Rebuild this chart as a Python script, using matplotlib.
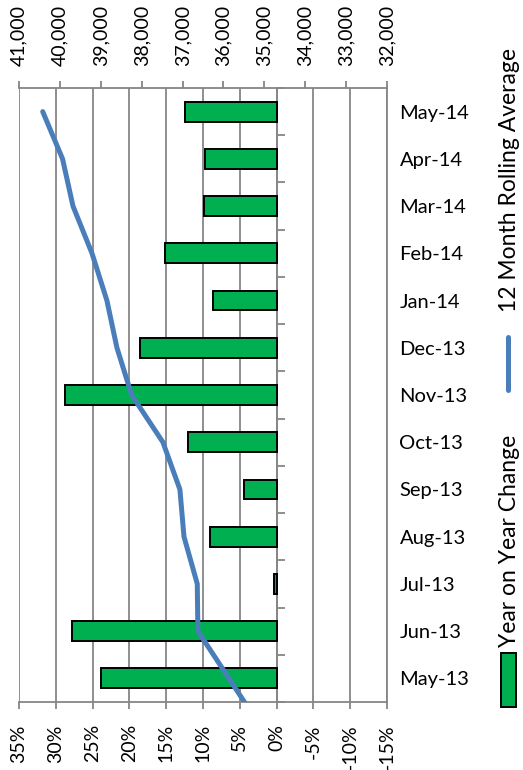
import matplotlib
matplotlib.use("Agg")
import matplotlib.pyplot as plt
from matplotlib.patches import Rectangle
from matplotlib.lines import Line2D
from matplotlib.ticker import FuncFormatter, FixedLocator

plt.rcParams['font.family'] = ['Lato', 'DejaVu Sans']

# Monthly categories, oldest at the bottom
months = ['May-13', 'Jun-13', 'Jul-13', 'Aug-13', 'Sep-13', 'Oct-13', 'Nov-13',
          'Dec-13', 'Jan-14', 'Feb-14', 'Mar-14', 'Apr-14', 'May-14']
# Year on year change, percent
yoy_change = [23.8, 27.8, 0.4, 9.0, 4.4, 12.0, 28.7, 18.6, 8.6, 15.2, 9.9, 9.7, 12.5]
# 12 month rolling average, starting one month earlier (Apr-13)
rolling_months = ['Apr-13'] + months
rolling_avg = [35110, 35865, 36625, 36640, 36965, 37065, 37480, 38245,
               38605, 38850, 39215, 39680, 39935, 40420]

pct_ticks = [35, 30, 25, 20, 15, 10, 5, 0, -5, -10, -15]
avg_ticks = [41000, 40000, 39000, 38000, 37000, 36000, 35000, 34000, 33000, 32000]

GRID = '#868686'
GREEN = '#00B050'
BLUE = '#4A7EBB'
W, H = 523, 770

fig = plt.figure(figsize=(W / 100, H / 100), dpi=100)
ax = fig.add_axes([19 / W, 1 - 702 / H, (387 - 19) / W, (702 - 88) / H])

pos = list(range(len(months)))
ax.barh(pos, yoy_change, height=0.42, color=GREEN, edgecolor='black',
        linewidth=1.4, zorder=3)

ax.set_xlim(35, -15)
ax.set_ylim(-0.5, len(months) - 0.5)
ax.set_xticks(pct_ticks)
ax.xaxis.set_major_formatter(FuncFormatter(lambda v, p: f"{v:.0f}%"))
ax.grid(axis='x', color=GRID, linewidth=1.3, zorder=0)
ax.set_axisbelow(True)

ax.tick_params(axis='x', which='major', direction='out', length=5, width=1.3,
               color=GRID, labelsize=14, labelrotation=90, pad=11)

# category axis sits on the 0% line, labels on the far side
ax.spines['left'].set_position(('data', 0))
ax.spines['top'].set_visible(False)
for s in ('left', 'right', 'bottom'):
    ax.spines[s].set_color(GRID)
    ax.spines[s].set_linewidth(1.3)
ax.set_yticks(pos)
ax.set_yticklabels(months)
ax.yaxis.set_minor_locator(FixedLocator([p - 0.5 for p in pos] + [len(months) - 0.5]))
ax.tick_params(axis='y', which='major', left=False, right=False,
               labelleft=False, labelright=True, labelsize=14.5, pad=9, length=0)
ax.tick_params(axis='y', which='minor', left=True, right=False, direction='in',
               length=6, width=1.3, color=GRID)

# secondary value axis for the rolling average
ax2 = ax.twiny()
ax2.set_xlim(41000, 32000)
ax2.set_xticks(avg_ticks)
ax2.xaxis.set_major_formatter(FuncFormatter(lambda v, p: f"{v:,.0f}"))
ax2.tick_params(axis='x', direction='out', length=5, width=1.3, color=GRID,
                labelsize=14, labelrotation=90, pad=11)
for s in ('left', 'right', 'bottom'):
    ax2.spines[s].set_visible(False)
ax2.spines['top'].set_color(GRID)
ax2.spines['top'].set_linewidth(1.3)
rolling_pos = list(range(-1, len(months)))
ax2.plot(rolling_avg, rolling_pos, color=BLUE, linewidth=3.6,
         solid_capstyle='round', solid_joinstyle='round', zorder=4)
ax2.set_ylim(-0.5, len(months) - 0.5)

# rotated legend on the right
def fx(px):
    return px / W

def fy(py):
    return 1 - py / H

fig.add_artist(Rectangle((fx(501), fy(707)), 15 / W, 54 / H, transform=fig.transFigure,
                         facecolor=GREEN, edgecolor='black', linewidth=1.4))
fig.text(fx(509), fy(647), 'Year on Year Change', rotation=90, ha='center',
         va='bottom', fontsize=16.5)
fig.add_artist(Line2D([fx(508), fx(508)], [fy(390), fy(337)], transform=fig.transFigure,
                      color=BLUE, linewidth=3.6, solid_capstyle='round'))
fig.text(fx(509), fy(312), '12 Month Rolling Average', rotation=90, ha='center',
         va='bottom', fontsize=16.5)

fig.savefig('out.png', dpi=100)
